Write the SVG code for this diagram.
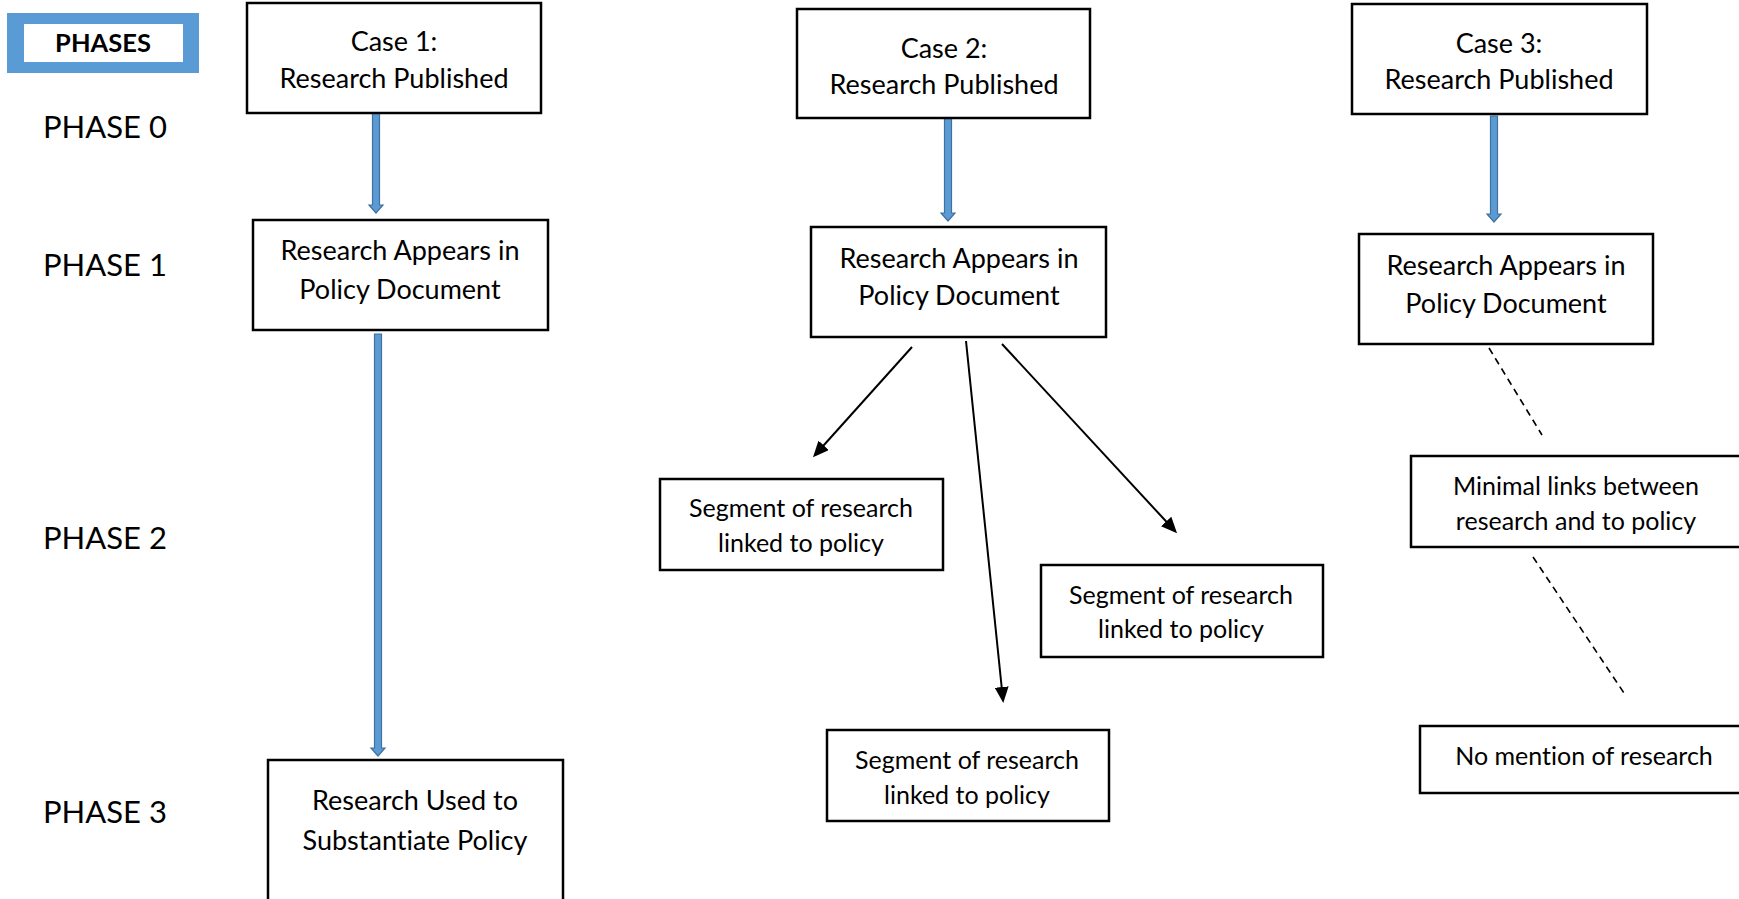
<svg xmlns="http://www.w3.org/2000/svg" width="1739" height="899" viewBox="0 0 1739 899">
<style>
  .box { fill: #ffffff; stroke: #000000; stroke-width: 2.5; }
  .t { font-family: Lato, "Open Sans", sans-serif; fill: #000000; text-anchor: middle; font-variant-ligatures: none; }
  .big { font-size: 27px; }
  .small { font-size: 25px; }
  .phase { font-family: Lato, "Open Sans", sans-serif; font-size: 31px; fill: #000000; }
  .blue { fill: #5B9BD5; stroke: #41719C; stroke-width: 1.2; }
  .black { stroke: #000000; stroke-width: 2; fill: none; marker-end: url(#ah); }
  .dash { stroke: #000000; stroke-width: 1.6; fill: none; stroke-dasharray: 7 5; }
</style>
<defs>
  <marker id="ah" markerUnits="userSpaceOnUse" markerWidth="16" markerHeight="14" refX="13" refY="7" orient="auto">
    <path d="M0,0 L16,7 L0,14 Z" fill="#000000"/>
  </marker>
</defs>
<rect width="1739" height="899" fill="#ffffff"/>

<g id="phases-legend">
  <rect x="7" y="13" width="192" height="60" fill="#5B9BD5"/>
  <rect x="24" y="24" width="159" height="38" fill="#ffffff"/>
  <text class="t" x="103" y="52" font-size="25.5" font-weight="bold">PHASES</text>
</g>
<g id="phase-labels">
  <text class="phase" x="43" y="138">PHASE 0</text>
  <text class="phase" x="43" y="276">PHASE 1</text>
  <text class="phase" x="43" y="549">PHASE 2</text>
  <text class="phase" x="43" y="823">PHASE 3</text>
</g>

<g id="connectors">
  <path class="blue" d="M372.5,113 L379.5,113 L379.5,205 L383,205 L376,213 L369,205 L372.5,205 Z"/>
  <path class="blue" d="M374.5,334 L381.5,334 L381.5,748 L385,748 L378,756 L371,748 L374.5,748 Z"/>
  <path class="blue" d="M944.5,117 L951.5,117 L951.5,213 L955,213 L948,221 L941,213 L944.5,213 Z"/>
  <path class="blue" d="M1490.5,116 L1497.5,116 L1497.5,214 L1501,214 L1494,222 L1487,214 L1490.5,214 Z"/>
  <line class="black" x1="912" y1="347" x2="815" y2="455"/>
  <line class="black" x1="966" y1="341" x2="1003" y2="700"/>
  <line class="black" x1="1002" y1="344" x2="1175" y2="531"/>
  <line class="dash" x1="1489" y1="348" x2="1542" y2="435"/>
  <line class="dash" x1="1533" y1="557" x2="1626" y2="696"/>
</g>

<g id="case1-published">
  <rect class="box" x="247" y="3" width="294" height="110"/>
  <text class="t big" x="394" y="51">Case 1:</text>
  <text class="t big" x="394" y="88">Research Published</text>
</g>
<g id="case1-policy">
  <rect class="box" x="253" y="220" width="295" height="110"/>
  <text class="t big" x="400" y="260">Research Appears in</text>
  <text class="t big" x="400" y="299">Policy Document</text>
</g>
<g id="case1-substantiate">
  <rect class="box" x="268" y="760" width="295" height="150"/>
  <text class="t big" x="415" y="810">Research Used to</text>
  <text class="t big" x="415" y="850">Substantiate Policy</text>
</g>

<g id="case2-published">
  <rect class="box" x="797" y="9" width="293" height="109"/>
  <text class="t big" x="944" y="58">Case 2:</text>
  <text class="t big" x="944" y="94">Research Published</text>
</g>
<g id="case2-policy">
  <rect class="box" x="811" y="227" width="295" height="110"/>
  <text class="t big" x="959" y="268">Research Appears in</text>
  <text class="t big" x="959" y="305">Policy Document</text>
</g>
<g id="case2-segment-left">
  <rect class="box" x="660" y="479" width="283" height="91"/>
  <text class="t small" x="801" y="517">Segment of research</text>
  <text class="t small" x="801" y="552">linked to policy</text>
</g>
<g id="case2-segment-right">
  <rect class="box" x="1041" y="565" width="282" height="92"/>
  <text class="t small" x="1181" y="604">Segment of research</text>
  <text class="t small" x="1181" y="638">linked to policy</text>
</g>
<g id="case2-segment-bottom">
  <rect class="box" x="827" y="730" width="282" height="91"/>
  <text class="t small" x="967" y="769">Segment of research</text>
  <text class="t small" x="967" y="804">linked to policy</text>
</g>

<g id="case3-published">
  <rect class="box" x="1352" y="4" width="295" height="110"/>
  <text class="t big" x="1499" y="53">Case 3:</text>
  <text class="t big" x="1499" y="89">Research Published</text>
</g>
<g id="case3-policy">
  <rect class="box" x="1359" y="234" width="294" height="110"/>
  <text class="t big" x="1506" y="275">Research Appears in</text>
  <text class="t big" x="1506" y="313">Policy Document</text>
</g>
<g id="case3-minimal">
  <rect class="box" x="1411" y="456" width="340" height="91"/>
  <text class="t small" x="1576" y="495">Minimal links between</text>
  <text class="t small" x="1576" y="530">research and to policy</text>
</g>
<g id="case3-no-mention">
  <rect class="box" x="1420" y="726" width="340" height="67"/>
  <text class="t small" x="1584" y="765">No mention of research</text>
</g>
</svg>
